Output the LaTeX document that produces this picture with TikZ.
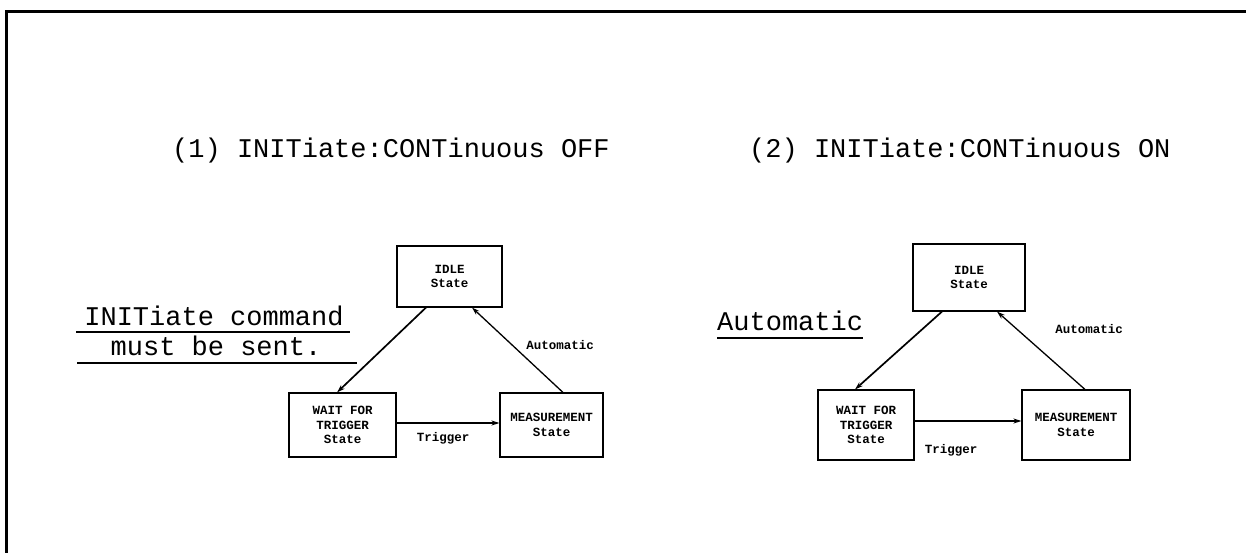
\documentclass[tikz,border=0pt]{standalone}
\usepackage{fontspec}
\setmonofont{Liberation Mono}
\usetikzlibrary{arrows.meta}
\newfontfamily\bigmono[Scale=1.0]{Liberation Mono}
\tikzset{
  statebox/.style={draw, line width=1.1pt, inner sep=0pt, align=center,
    font=\fontsize{12.5}{14.5}\selectfont\bfseries\ttfamily},
  arr/.style={line width=1.3pt, -{Stealth[length=8pt,width=5pt]}},
  small/.style={font=\fontsize{12.5}{14.5}\selectfont\bfseries\ttfamily, inner sep=0pt},
  big/.style={font=\fontsize{27}{30}\selectfont\bigmono, inner sep=0pt},
  uline/.style={line width=1.4pt}
}
\begin{document}
\begin{tikzpicture}[x=1pt,y=-1pt]
\useasboundingbox (0,0) rectangle (1246,552);
% frame
\draw[line width=3pt] (6,560) -- (6,11) -- (1260,11);

% titles
\node[big, anchor=base west] (t1) at (172,157) {(1) INITiate:CONTinuous OFF};
\node[big, anchor=base west] (t2) at (749,157) {(2) INITiate:CONTinuous ON};

% left notes
\node[big, anchor=base] (n1) at (214,325) {INITiate command};
\node[big, anchor=base] (n2) at (216,355) {must be sent.};
\draw[uline] (76,332) -- (350,332);
\draw[uline] (77,363) -- (357,363);
\node[big, anchor=base west] (n3) at (717,330) {Automatic};
\draw[uline] (717,338) -- (863,338);

% diagram 1
\node[statebox, minimum width=105pt, minimum height=61pt] (idle1) at (449.5,276.5) {IDLE\\State};
\node[statebox, minimum width=107pt, minimum height=64pt] (wait1) at (342.5,425) {WAIT FOR\\TRIGGER\\State};
\node[statebox, minimum width=103pt, minimum height=64pt] (meas1) at (551.5,425) {MEASUREMENT\\State};
\draw[arr, line width=1.7pt] ([xshift=-23.5pt]idle1.south) -- ([xshift=-5.5pt]wait1.north);
\draw[arr] ([xshift=11.5pt]meas1.north) -- ([xshift=22.5pt]idle1.south);
\draw[arr] ([yshift=2pt]wait1.east) -- ([yshift=2pt]meas1.west);
\node[small] (a1) at (560,345) {Automatic};
\node[small] (tr1) at (443,438) {Trigger};

% diagram 2
\node[statebox, minimum width=112pt, minimum height=67pt] (idle2) at (969,277.5) {IDLE\\State};
\node[statebox, minimum width=96pt, minimum height=70pt] (wait2) at (866,425) {WAIT FOR\\TRIGGER\\State};
\node[statebox, minimum width=108pt, minimum height=70pt] (meas2) at (1076,425) {MEASUREMENT\\State};
\draw[arr, line width=1.7pt] ([xshift=-27pt]idle2.south) -- ([xshift=-11pt]wait2.north);
\draw[arr] ([xshift=9pt]meas2.north) -- ([xshift=28pt]idle2.south);
\draw[arr] ([yshift=4pt]wait2.east) -- ([yshift=4pt]meas2.west);
\node[small] (a2) at (1089,329) {Automatic};
\node[small] (tr2) at (951,450) {Trigger};
\end{tikzpicture}
\end{document}
